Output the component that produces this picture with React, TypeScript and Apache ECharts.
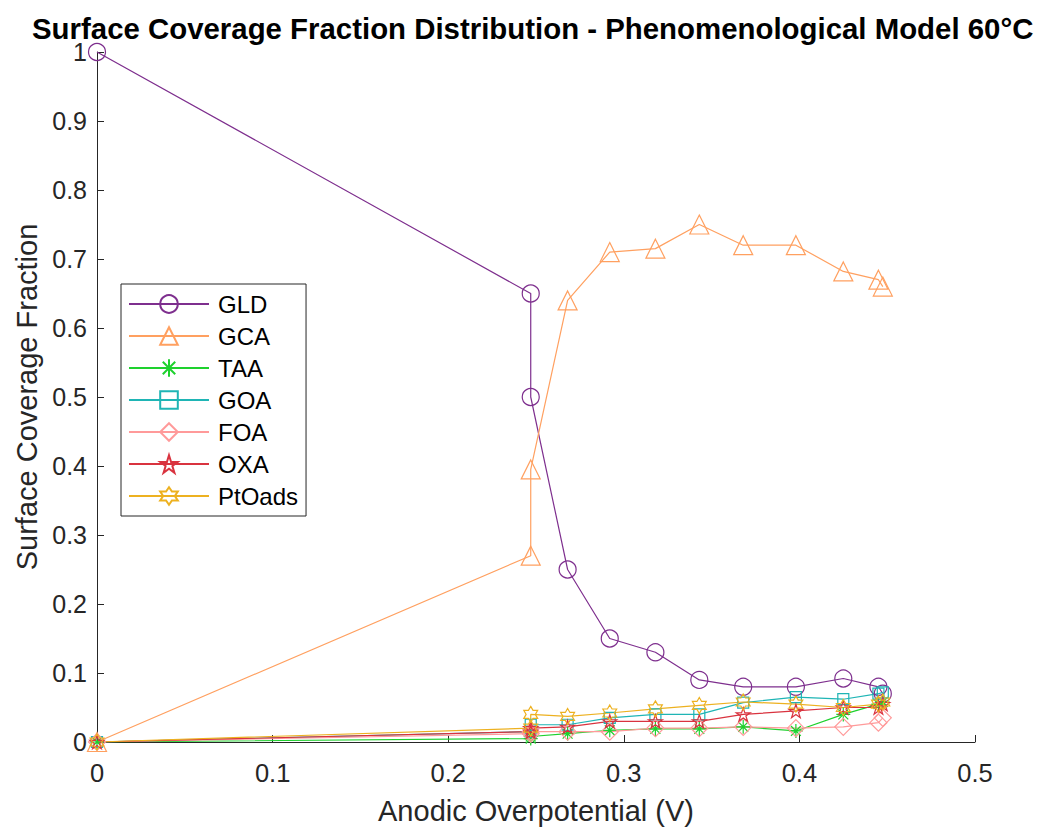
import React, { useEffect, useRef } from "react";
import * as echarts from "echarts";

const xValues = [0, 0.247, 0.247, 0.268, 0.292, 0.318, 0.343, 0.368, 0.398, 0.425, 0.445, 0.4475];
const gld = [1, 0.65, 0.5, 0.25, 0.15, 0.13, 0.09, 0.08, 0.08, 0.092, 0.08, 0.07];
const gca = [0, 0.27, 0.395, 0.64, 0.71, 0.715, 0.75, 0.72, 0.72, 0.682, 0.67, 0.66];
const taa = [0, 0.005, 0.008, 0.012, 0.017, 0.019, 0.019, 0.022, 0.016, 0.04, 0.055, 0.058];
const goa = [0, 0.015, 0.025, 0.025, 0.035, 0.04, 0.04, 0.057, 0.065, 0.062, 0.07, 0.072];
const foa = [0, 0.012, 0.015, 0.015, 0.015, 0.02, 0.02, 0.022, 0.02, 0.022, 0.028, 0.035];
const oxa = [0, 0.015, 0.02, 0.022, 0.03, 0.03, 0.03, 0.04, 0.045, 0.05, 0.05, 0.055];
const ptoads = [0, 0.02, 0.04, 0.037, 0.042, 0.048, 0.053, 0.058, 0.055, 0.05, 0.055, 0.058];

const seriesNames = ["GLD", "GCA", "TAA", "GOA", "FOA", "OXA", "PtOads"];
const seriesColors = ["#7E2F8E", "#FFA060", "#1ED12E", "#1FB5B5", "#FF9A9A", "#D9333F", "#EDB120"];

const ASTERISK = "path://M10 0 L10 20 M0 10 L20 10 M2.93 2.93 L17.07 17.07 M2.93 17.07 L17.07 2.93";
const PENTAGRAM =
  "path://M10 0 L12.245 6.91 L19.511 6.91 L13.633 11.18 L15.878 18.09 L10 13.82 L4.122 18.09 L6.367 11.18 L0.489 6.91 L7.755 6.91 Z";
const HEXAGRAM =
  "path://M10 0 L12.887 5 L18.66 5 L15.774 10 L18.66 15 L12.887 15 L10 20 L7.113 15 L1.34 15 L4.226 10 L1.34 5 L7.113 5 Z";

const seriesSymbols = ["circle", "triangle", ASTERISK, "rect", "diamond", PENTAGRAM, HEXAGRAM];
const seriesSizes = [17, 19, 14, 11, 17, 14, 16];

export default function App() {
  const ref = useRef<HTMLDivElement>(null);
  useEffect(() => {
    if (!ref.current) return;
    const chart = echarts.init(ref.current, null, { renderer: "svg" });
    const allData = [gld, gca, taa, goa, foa, oxa, ptoads];
    const font = "'Liberation Sans', Arial, sans-serif";
    const series = allData.map((vals, i) => ({
      name: seriesNames[i],
      type: "line",
      data: vals.map((v, j) => [xValues[j], v]),
      symbol: seriesSymbols[i],
      symbolSize: seriesSizes[i],
      symbolKeepAspect: true,
      showAllSymbol: true,
      color: seriesColors[i],
      lineStyle: { color: seriesColors[i], width: 1.2 },
      itemStyle: { color: "rgba(0,0,0,0)", borderColor: seriesColors[i], borderWidth: 1.2 },
      emphasis: { disabled: true },
    }));
    chart.setOption({
      animation: false,
      backgroundColor: "#fff",
      textStyle: { fontFamily: font },
      title: {
        text: "Surface Coverage Fraction Distribution - Phenomenological Model 60°C",
        left: 32,
        top: 15,
        padding: 0,
        textStyle: {
          fontFamily: font,
          fontSize: 29.4,
          lineHeight: 26,
          fontWeight: "bold",
          color: "#000",
        },
      },
      grid: { left: 97, right: 71, top: 52, bottom: 85, containLabel: false },
      xAxis: {
        type: "value",
        min: 0,
        max: 0.5,
        interval: 0.1,
        name: "Anodic Overpotential (V)",
        nameLocation: "middle",
        nameGap: 54,
        nameTextStyle: { fontSize: 29, color: "#262626", fontFamily: font },
        axisLine: { show: true, lineStyle: { color: "#262626", width: 1 } },
        axisTick: { show: true, inside: true, length: 7, lineStyle: { color: "#262626" } },
        axisLabel: { fontSize: 25.5, color: "#262626", margin: 18, fontFamily: font },
        splitLine: { show: false },
      },
      yAxis: {
        type: "value",
        min: 0,
        max: 1,
        interval: 0.1,
        name: "Surface Coverage Fraction",
        nameLocation: "middle",
        nameGap: 52,
        nameTextStyle: { fontSize: 29, color: "#262626", fontFamily: font },
        axisLine: { show: true, lineStyle: { color: "#262626", width: 1 } },
        axisTick: { show: true, inside: true, length: 7, lineStyle: { color: "#262626" } },
        axisLabel: { fontSize: 25, lineHeight: 18, color: "#262626", margin: 10, fontFamily: font },
        splitLine: { show: false },
      },
      legend: {
        orient: "vertical",
        left: 121,
        top: 284,
        padding: [8, 8, 8, 7],
        itemWidth: 80,
        itemHeight: 22,
        itemGap: 8,
        backgroundColor: "#fff",
        borderColor: "#262626",
        borderWidth: 1,
        borderRadius: 0,
        textStyle: { fontSize: 24, color: "#000", fontFamily: font, padding: [0, 0, 0, 4] },
        data: seriesNames,
      },
      series,
    });
    return () => chart.dispose();
  }, []);
  return <div ref={ref} style={{ position: "fixed", left: 0, top: 0, width: 1046, height: 830 }} />;
}
